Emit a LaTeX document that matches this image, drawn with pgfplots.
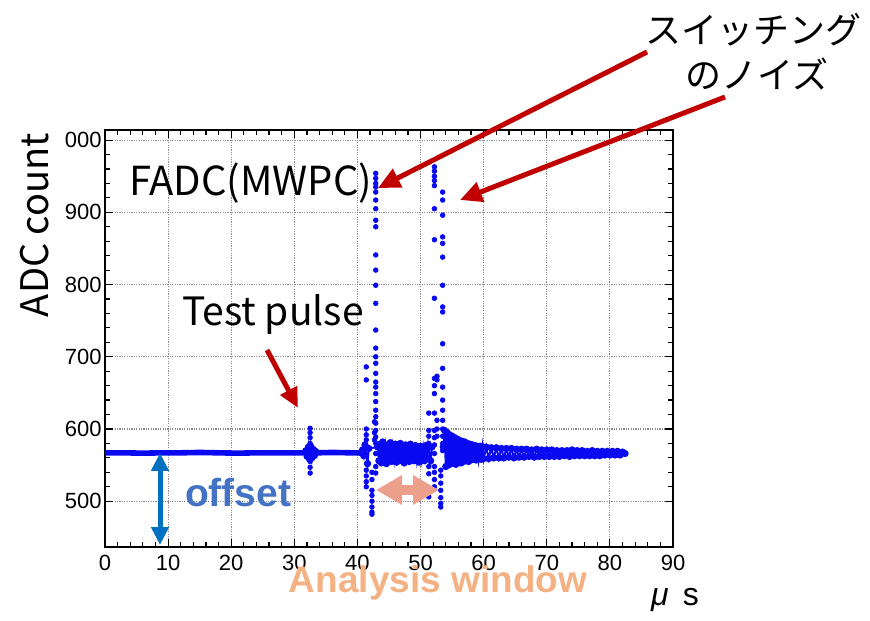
\documentclass[border=0pt]{standalone}
\usepackage{fontspec}
\setmainfont{Liberation Sans}
\newfontfamily\cjk{Noto Sans CJK JP}
\usepackage{pgfplots}
\pgfplotsset{compat=1.18}
\usetikzlibrary{arrows.meta}
\definecolor{darkred}{RGB}{192,0,0}
\definecolor{offblue}{RGB}{0,112,192}
\definecolor{offtext}{RGB}{68,114,196}
\definecolor{salmon}{RGB}{236,160,140}
\definecolor{anatext}{RGB}{244,177,131}
\definecolor{datablue}{RGB}{10,10,240}
\begin{document}
\begin{tikzpicture}
\useasboundingbox (0,0) rectangle (435pt,310pt);
\begin{axis}[
  at={(52.5pt,36.65pt)}, anchor=south west,
  scale only axis, width=284pt, height=208.35pt,
  xmin=0, xmax=90, ymin=437, ymax=1014,
  xtick={0,10,...,90}, ytick={500,600,700,800,900,1000},
  xticklabels={0,10,20,30,40,50,60,70,80,90},
  yticklabels={500,600,700,800,900,000},
  minor x tick num=4, minor y tick num=4,
  tick align=inside, tick pos=both,
  major tick length=4pt, minor tick length=2.4pt,
  every tick/.style={black, line width=0.6pt},
  axis line style={line width=0.8pt},
  grid=major,
  major grid style={black!45, dash pattern=on 0.6pt off 0.6pt, line width=0.6pt},
  tick label style={font=\fontsize{11}{12}\selectfont},
  yticklabel style={inner sep=0pt, xshift=-1.5pt},
  xticklabel style={inner sep=0pt, yshift=-4pt},
  clip=false,
]
% quiet baseline
\addplot[datablue, line width=2.8pt, mark=none] coordinates {
(0,567) (3,567) (6,566.5) (9,567) (12,567) (15,567.5) (18,567) (21,566.5) (24,567) (27,567) (30,567) (31.5,567) (33.5,567) (36,567.5) (39,567) (41,567)
};
% test pulse region noise
\addplot[datablue, line width=1pt, mark=*, mark size=1.2pt] coordinates {
(31.8,570) (32.0,562) (32.2,575) (32.4,558) (32.6,576) (32.8,560) (33.0,572) (33.2,563) (33.4,569)
};
% noise region between spikes
\addplot[datablue, line width=1pt, mark=*, mark size=1.3pt] coordinates {
(40.6,567) (40.8,571) (41.0,563) (41.2,578) (41.6,552) (41.8,573)
(43.2,575) (43.4,556) (43.6,579) (43.7,566) (43.8,553) (44.0,582) (44.2,558) (44.3,570) (44.4,576) (44.6,552) (44.8,578) (45.0,557)
(45.2,581) (45.3,566) (45.4,555) (45.6,574) (45.8,559) (46.0,579) (46.1,568) (46.2,554) (46.4,577) (46.6,558) (46.8,580) (47.0,556)
(47.2,575) (47.3,565) (47.4,553) (47.6,578) (47.8,559) (48.0,576) (48.1,567) (48.2,555) (48.4,579) (48.6,557) (48.8,574) (49.0,556)
(49.2,577) (49.3,566) (49.4,558) (49.6,575) (49.8,554) (50.0,576) (50.1,568) (50.2,559) (50.4,573) (50.6,556) (50.8,577) (51.0,560)
(51.2,578) (51.6,556) (51.8,575)
};
% ringing after second spike
\addplot[datablue, line width=1pt, mark=*, mark size=1.3pt] coordinates {
(53.6,575) (53.8,598) (54.0,548) (54.1,572) (54.2,595) (54.4,550) (54.5,570) (54.6,592) (54.8,552) (54.9,566) (55.0,590) (55.2,553) (55.3,575) (55.4,588)
(55.6,551) (55.7,569) (55.8,586) (56.0,554) (56.1,572) (56.2,584) (56.4,553) (56.5,566) (56.6,583) (56.8,555) (57.0,582) (57.1,568) (57.2,556) (57.4,580)
(57.6,555) (57.8,579) (57.9,567) (58.0,557) (58.2,578) (58.4,558) (58.6,577) (58.8,557) (59.0,576) (59.2,559) (59.4,576)
(59.6,558) (59.8,575) (60.0,559) (60.4,575) (60.8,559) (61.2,574) (61.6,560) (62.0,574) (62.4,560) (62.8,573)
(63.2,560) (63.6,573) (64.0,561) (64.4,573) (64.8,560) (65.2,572) (65.6,561) (66.0,572) (66.4,561) (66.8,572)
(67.2,562) (67.6,571) (68.0,561) (68.4,572) (68.8,562) (69.2,571) (69.6,562) (70.0,571) (70.4,562) (70.8,571)
(71.2,562) (71.6,570) (72.0,562) (72.4,570) (72.8,563) (73.2,570) (73.6,562) (74.0,571) (74.4,563) (74.8,570)
(75.2,563) (75.6,570) (76.0,563) (76.4,569) (76.8,563) (77.2,570) (77.6,563) (78.0,569) (78.4,563) (78.8,569)
(79.2,564) (79.6,569) (80.0,564) (80.4,569) (80.8,564) (81.2,569) (81.6,564) (82.0,568) (82.4,566)
};
% spike columns (scatter)
\addplot[only marks, datablue, mark=*, mark size=1.15pt] coordinates {
(32.5,601) (32.5,595) (32.5,588) (32.5,580) (32.5,555) (32.5,547) (32.5,539)
(41.4,686) (41.4,668) (41.4,600) (41.4,592) (41.4,585) (41.4,575) (41.4,543) (41.4,535) (41.4,527) (41.4,520)
(42.3,540) (42.3,530) (42.3,515) (42.3,508) (42.3,500) (42.3,492) (42.3,485) (42.3,482)
(42.9,954) (42.9,947) (42.9,940) (42.9,935) (42.9,928) (42.9,917) (42.9,905) (42.9,889) (42.9,880) (42.9,841)
(42.9,820) (42.9,799) (42.9,774) (42.9,737) (42.9,712) (42.9,700) (42.9,691) (42.9,677) (42.9,665) (42.9,658)
(42.9,649) (42.9,638) (42.9,626) (42.9,617) (42.9,608) (42.9,598) (42.9,589) (42.9,580) (42.9,566) (42.9,548) (42.9,539)
(42.7,610) (42.7,595) (42.7,585)
(51.3,622) (51.3,598) (51.3,590) (51.3,580) (51.3,548) (51.3,538) (51.3,506)
(52.2,963) (52.2,957) (52.2,950) (52.2,944) (52.2,937) (52.2,905) (52.2,862) (52.2,781) (52.2,670) (52.2,660)
(52.2,649) (52.2,622) (52.2,598) (52.2,588) (52.2,578) (52.2,566) (52.2,548) (52.2,540) (52.2,530) (52.2,520)
(52.6,673) (52.6,668) (52.6,612) (52.6,600) (52.6,590)
(53.5,928) (53.5,917) (53.5,896) (53.5,866) (53.5,857) (53.5,838) (53.5,799) (53.5,769) (53.5,762) (53.5,718)
(53.5,684) (53.5,658) (53.5,640) (53.5,626) (53.5,612) (53.5,600) (53.5,590) (53.5,580) (53.5,570)
(53.2,543) (53.2,535) (53.2,525) (53.2,515) (53.2,505) (53.2,497) (53.2,492)
};
\end{axis}
% annotations in image pixel coordinates (y downward)
\begin{scope}[x=0.5pt, y=-0.5pt, yshift=310pt]
  \node[rotate=90, font=\cjk\fontsize{19}{22}\selectfont] at (35,225) {ADC count};
  \node[anchor=west, font=\cjk\fontsize{20}{24}\selectfont] at (122,183) {FADC(MWPC)};
  \node[anchor=west, font=\cjk\fontsize{19.5}{24}\selectfont] at (175,314) {Test pulse};
  \node[font=\cjk\fontsize{18}{22}\selectfont] at (753,30) {スイッチング};
  \node[font=\cjk\fontsize{18}{22}\selectfont] at (757,74) {のノイズ};
  \node[font=\fontsize{16}{18}\selectfont] at (675,600) {\textit{μ}\hspace{0.45em}s};
  \node[anchor=west, font=\bfseries\fontsize{19.5}{22}\selectfont, text=offtext] at (178,493) {offset};
  \node[font=\bfseries\fontsize{18.5}{22}\selectfont, text=anatext] at (438,583) {Analysis window};
  % red arrows
  \draw[darkred, line width=2.5pt, -{Triangle[length=11pt,width=10pt]}] (647,52) -- (378,188);
  \draw[darkred, line width=2.5pt, -{Triangle[length=11pt,width=10pt]}] (725,97) -- (460,200);
  \draw[darkred, line width=2.5pt, -{Triangle[length=10pt,width=9pt]}] (267,350) -- (298,408);
  % offset arrow
  \draw[offblue, line width=2.5pt, {Triangle[length=9pt,width=8.5pt]}-{Triangle[length=9pt,width=8.5pt]}] (160,453) -- (160,545);
  % analysis window arrow
  \draw[salmon, line width=5pt, {Triangle[length=13pt,width=14pt]}-{Triangle[length=13pt,width=14pt]}] (376,490) -- (439,490);
\end{scope}
\end{tikzpicture}
\end{document}
